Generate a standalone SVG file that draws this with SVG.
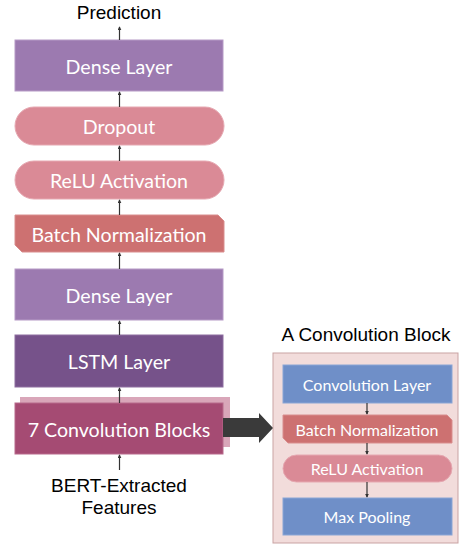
<svg xmlns="http://www.w3.org/2000/svg" width="459" height="544" viewBox="0 0 459 544">
<style>
.lbl{font-family:Lato,"Open Sans",sans-serif;fill:#fff;text-anchor:middle;dominant-baseline:central}
.big{font-size:19.6px}
.sm{font-size:16px}
.blk{font-family:"Liberation Sans",Arial,sans-serif;font-size:19px;fill:#000;text-anchor:middle}
.dense{fill:#9c7ab0;stroke:#b69ac6;stroke-width:1}
.pink{fill:#da8a96;stroke:#e6a8b1;stroke-width:1}
.bn{fill:#cd7171;stroke:#d98e8e;stroke-width:1}
.lstm{fill:#76528a;stroke:#8e6ea0;stroke-width:1}
.conv{fill:#a54b73;stroke:#b86a8c;stroke-width:1}
.blue{fill:#6f8fc8;stroke:#8aa5d6;stroke-width:1}
.edge{stroke:#333;stroke-width:1.2;fill:none;marker-end:url(#ah)}
</style>
<defs>
<marker id="ah" viewBox="0 0 6 6" refX="5" refY="3" markerWidth="4" markerHeight="4" orient="auto" markerUnits="userSpaceOnUse">
<path d="M0,0 L6,3 L0,6 z" fill="#333"/>
</marker>
</defs>
<text class="blk" x="119" y="19">Prediction</text>
<g id="dense2"><rect class="dense" x="15" y="40" width="208" height="51"/><text class="lbl big" x="119" y="66">Dense Layer</text></g>
<g id="dropout"><rect class="pink" x="15" y="107" width="209" height="38" rx="19"/><text class="lbl big" x="119" y="126">Dropout</text></g>
<g id="relu"><rect class="pink" x="15" y="161" width="209" height="38" rx="19"/><text class="lbl big" x="119" y="180">ReLU Activation</text></g>
<g id="batchnorm"><path class="bn" d="M15,215 H218 L224,221 V252 H22 L15,245 Z"/><text class="lbl big" x="119" y="234">Batch Normalization</text></g>
<g id="dense1"><rect class="dense" x="15" y="269" width="208" height="51"/><text class="lbl big" x="119" y="295">Dense Layer</text></g>
<g id="lstm"><rect class="lstm" x="15" y="335" width="208" height="52"/><text class="lbl big" x="119" y="361">LSTM Layer</text></g>
<g id="convblocks"><rect x="20" y="397" width="210" height="50" fill="#d9a6b9"/><rect class="conv" x="15" y="403" width="208" height="51"/><text class="lbl big" x="119" y="429">7 Convolution Blocks</text></g>
<g id="input"><text class="blk" x="119" y="492">BERT-Extracted</text><text class="blk" x="119" y="514">Features</text></g>
<g id="panel">
<rect x="273" y="353" width="185" height="190" fill="#f2dcdb" stroke="#c9a3a3" stroke-width="1"/>
<text class="blk" x="366" y="341">A Convolution Block</text>
</g>
<g id="cconv"><rect class="blue" x="283" y="365" width="169" height="38"/><text class="lbl sm" x="367" y="384">Convolution Layer</text></g>
<g id="cbn"><path class="bn" d="M283,415 H447 L452,420 V443 H288 L283,438 Z"/><text class="lbl sm" x="367" y="429">Batch Normalization</text></g>
<g id="crelu"><rect class="pink" x="283" y="455" width="169" height="27" rx="13.5"/><text class="lbl sm" x="367" y="468.5">ReLU Activation</text></g>
<g id="cpool"><rect class="blue" x="283" y="498" width="169" height="37"/><text class="lbl sm" x="367" y="516.5">Max Pooling</text></g>
<g id="connectors">
<line class="edge" x1="119.5" y1="40" x2="119.5" y2="27"/>
<line class="edge" x1="119.5" y1="107" x2="119.5" y2="92"/>
<line class="edge" x1="119.5" y1="161" x2="119.5" y2="146"/>
<line class="edge" x1="119.5" y1="215" x2="119.5" y2="200"/>
<line class="edge" x1="119.5" y1="269" x2="119.5" y2="253"/>
<line class="edge" x1="119.5" y1="335" x2="119.5" y2="321"/>
<line class="edge" x1="119.5" y1="403" x2="119.5" y2="388"/>
<line class="edge" x1="119.5" y1="470" x2="119.5" y2="455"/>
<line class="edge" x1="367" y1="403" x2="367" y2="414"/>
<line class="edge" x1="367" y1="443" x2="367" y2="454"/>
<line class="edge" x1="367" y1="482" x2="367" y2="497"/>
<path d="M223,418 H259 V413 L273,428 L259,443 V437 H223 Z" fill="#3a3a3a"/>
</g>
</svg>
